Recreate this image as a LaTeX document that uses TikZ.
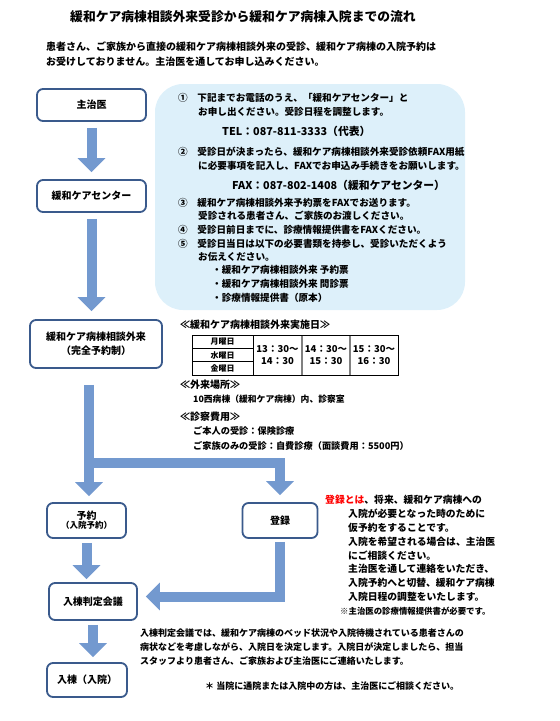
\documentclass[tikz,border=0pt]{standalone}
\usepackage{fontspec}
\setmainfont{Noto Sans CJK JP}
\usetikzlibrary{arrows.meta}
\definecolor{arrowblue}{HTML}{7399CF}
\definecolor{boxline}{HTML}{3A5A8C}
\definecolor{infofill}{HTML}{DDF0FA}
\newcommand\jf[1]{\fontsize{#1}{#1}\selectfont\bfseries}
\tikzset{
  flowbox/.style={draw=boxline, line width=1.8pt, rounded corners=6pt, fill=white,
    align=center, font=\jf{10}, inner sep=0pt},
  blockarrow/.style={draw=arrowblue, line width=10pt, line join=miter,
    -{Triangle[length=14pt,width=27pt]}},
  txt/.style={anchor=west, inner sep=0pt},
  tcell/.style={inner sep=0pt, font=\jf{8}},
  ttime/.style={inner sep=0pt, align=center, font=\fontsize{9.5}{12.5}\selectfont\bfseries},
}
\begin{document}
\begin{tikzpicture}[x=1pt,y=-1pt]
\useasboundingbox (0,0) rectangle (560,721);
% title and intro
\node[txt, font=\jf{12.8}] (title) at (70,17) {緩和ケア病棟相談外来受診から緩和ケア病棟入院までの流れ};
\node[txt, font=\jf{10}] (intro1) at (46,47) {患者さん、ご家族から直接の緩和ケア病棟相談外来の受診、緩和ケア病棟の入院予約は};
\node[txt, font=\jf{10}] (intro2) at (46,62) {お受けしておりません。主治医を通してお申し込みください。};
% info panel
\node[fill=infofill, rounded corners=28pt, minimum width=310pt, minimum height=226pt, inner sep=0pt] (info) at (310,197) {};
\begin{scope}[every node/.style={txt, font=\jf{9.6}}]
\node (i1) at (178,98) {①　下記までお電話のうえ、「緩和ケアセンター」と};
\node (i2) at (198,112) {お申し出ください。受診日程を調整します。};
\node[font=\jf{10.8}] (i3) at (222,131) {TEL：087-811-3333（代表）};
\node (i4) at (178,152) {②　受診日が決まったら、緩和ケア病棟相談外来受診依頼FAX用紙};
\node (i5) at (198,166) {に必要事項を記入し、FAXでお申込み手続きをお願いします。};
\node[font=\jf{10.8}] (i6) at (232,185) {FAX：087-802-1408（緩和ケアセンター）};
\node (i7) at (178,203) {③　緩和ケア病棟相談外来予約票をFAXでお送ります。};
\node (i8) at (198,216) {受診される患者さん、ご家族のお渡しください。};
\node (i9) at (178,230) {④　受診日前日までに、診療情報提供書をFAXください。};
\node (i10) at (178,244) {⑤　受診日当日は以下の必要書類を持参し、受診いただくよう};
\node (i11) at (198,257) {お伝えください。};
\node (i12) at (212,270) {・緩和ケア病棟相談外来 予約票};
\node (i13) at (212,284) {・緩和ケア病棟相談外来 問診票};
\node (i14) at (212,298) {・診療情報提供書（原本）};
\end{scope}
% flow boxes
\node[flowbox, minimum width=109pt, minimum height=32pt] (doctor) at (91.5,105) {主治医};
\node[flowbox, minimum width=109pt, minimum height=32pt] (center) at (91.5,196) {緩和ケアセンター};
\node[flowbox, minimum width=132pt, minimum height=48pt, font=\fontsize{10}{14}\selectfont\bfseries] (soudan) at (96,344) {緩和ケア病棟相談外来\\（完全予約制）};
\node[flowbox, minimum width=79pt, minimum height=35pt] (yoyaku) at (86.5,520.5) {予約\\[-1pt]{\jf{8.5}（入院予約）}};
\node[flowbox, minimum width=75pt, minimum height=35pt] (touroku) at (280,520.5) {登録};
\node[flowbox, minimum width=88pt, minimum height=37pt] (hantei) at (93,601.5) {入棟判定会議};
\node[flowbox, minimum width=80pt, minimum height=34pt] (nyutou) at (87,680) {入棟（入院）};
% arrows
\draw[blockarrow] ([yshift=-6pt]doctor.south) -- ([yshift=7pt]center.north);
\draw[blockarrow] ([yshift=-6pt]center.south) -- ([yshift=8pt]center.south |- soudan.north);
\draw[blockarrow] ([xshift=-7pt,yshift=-16pt]soudan.south) -- ([xshift=-7pt,yshift=6pt]soudan.south |- yoyaku.north);
\coordinate (branch) at (89,462.5);
\draw[blockarrow] (branch) -| ([yshift=7pt]touroku.north);
\draw[blockarrow] ([yshift=-4pt]yoyaku.south) -- ([yshift=3pt]yoyaku.south |- hantei.north);
\draw[blockarrow] ([yshift=-3pt]touroku.south) |- ([xshift=8pt,yshift=5pt]hantei.east);
\draw[blockarrow] ([yshift=-4pt]hantei.south) -- ([yshift=5pt]hantei.south |- nyutou.north);
% schedule
\node[txt, font=\jf{10}] (sched) at (180,325) {≪緩和ケア病棟相談外来実施日≫};
\draw[line width=0.9pt] (192,335) rectangle (398,375);
\draw[line width=0.9pt] (253,335) -- (253,375);
\draw[line width=0.9pt] (192,348.3) -- (253,348.3) (192,361.7) -- (253,361.7);
\draw[gray, line width=1.6pt] (302,335.5) -- (302,374.5) (350,335.5) -- (350,374.5);
\node[tcell] (mon) at (222.5,341.7) {月曜日};
\node[tcell] (wed) at (222.5,355) {水曜日};
\node[tcell] (fri) at (222.5,368.3) {金曜日};
\node[ttime] (t1) at (277.5,355) {13：30～\\14：30};
\node[ttime] (t2) at (326,355) {14：30～\\15：30};
\node[ttime] (t3) at (374,355) {15：30～\\16：30};
\node[txt, font=\jf{10}] (place) at (180,385) {≪外来場所≫};
\node[txt, font=\jf{8.8}] (place1) at (193,399) {10西病棟（緩和ケア病棟）内、診察室};
\node[txt, font=\jf{10}] (fee) at (180,417) {≪診察費用≫};
\node[txt, font=\jf{9.2}] (fee1) at (193,431) {ご本人の受診：保険診療};
\node[txt, font=\jf{9.2}] (fee2) at (193,446) {ご家族のみの受診：自費診療（面談費用：5500円）};
% registration explanation
\begin{scope}[every node/.style={txt, font=\jf{9.8}}]
\node (d1) at (325,500) {\textcolor{red}{登録とは}、将来、緩和ケア病棟への};
\node (d2) at (348,514) {入院が必要となった時のために};
\node (d3) at (348,528) {仮予約をすることです。};
\node (d4) at (348,542) {入院を希望される場合は、主治医};
\node (d5) at (348,556) {にご相談ください。};
\node (d6) at (348,569) {主治医を通して連絡をいただき、};
\node (d7) at (348,583) {入院予約へと切替、緩和ケア病棟};
\node (d8) at (348,597) {入院日程の調整をいたします。};
\node[font=\jf{8.4}] (d9) at (340,611) {※主治医の診療情報提供書が必要です。};
\end{scope}
% bottom notes
\begin{scope}[every node/.style={txt, font=\jf{9}}]
\node (b1) at (140,633) {入棟判定会議では、緩和ケア病棟のベッド状況や入院待機されている患者さんの};
\node (b2) at (140,647) {病状などを考慮しながら、入院日を決定します。入院日が決定しましたら、担当};
\node (b3) at (140,661) {スタッフより患者さん、ご家族および主治医にご連絡いたします。};
\node (b4) at (205,686) {＊ 当院に通院または入院中の方は、主治医にご相談ください。};
\end{scope}
\end{tikzpicture}
\end{document}
